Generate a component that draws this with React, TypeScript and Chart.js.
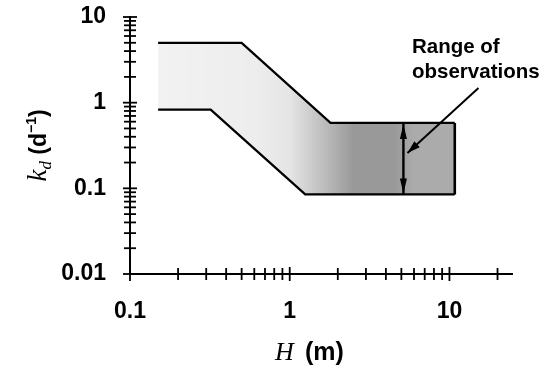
import React, { useEffect, useRef } from "react";
import { Chart, registerables } from "chart.js";

Chart.register(...registerables);

// ---- data ----
const upperH = [0.15, 0.5, 1.8, 10.8];
const upperKd = [5, 5, 0.58, 0.58];
const lowerH = [0.15, 0.32, 1.25, 10.8];
const lowerKd = [0.83, 0.83, 0.085, 0.085];
const edgeH = [10.8, 10.8];
const edgeKd = [0.58, 0.085];
const rangeH = [5.15, 5.15];
const rangeKd = [0.58, 0.085];
const pointerH = [15.2, 5.46];
const pointerKd = [1.48, 0.258];

const xDecadeValues = [0.1, 1, 10];
const xDecadeLabels = ["0.1", "1", "10"];
const yDecadeValues = [0.01, 0.1, 1, 10];
const yDecadeLabels = ["0.01", "0.1", "1", "10"];
const annotationLines = ["Range of", "observations"];

// shading density along H (style of the stippled band)
const shadeH = [0.15, 0.6, 1.0, 1.6, 2.5, 4.5, 6, 10.8];
const shadeAlpha = [0.05, 0.07, 0.1, 0.25, 0.4, 0.4, 0.33, 0.33];

const pts = (xs: number[], ys: number[]) => xs.map((x, i) => ({ x, y: ys[i] }));

const SANS = '"Liberation Sans", Arial, Helvetica, sans-serif';
const SERIF = '"Liberation Serif", "Times New Roman", serif';

const labelFor = (values: number[], labels: string[]) => (value: any) => {
  const v = Number(value);
  const i = values.findIndex((d) => Math.abs(d - v) / d < 1e-6);
  return i >= 0 ? labels[i] : "";
};

const isWholeMantissa = (v: number) => {
  const e = Math.floor(Math.log10(v) + 1e-9);
  const m = v / Math.pow(10, e);
  return Math.abs(m - Math.round(m)) < 1e-6;
};
const isDecade = (v: number) => {
  const l = Math.log10(v);
  return Math.abs(l - Math.round(l)) < 1e-6;
};

function arrowHead(ctx: CanvasRenderingContext2D, fx: number, fy: number, tx: number, ty: number, len: number, half: number) {
  const a = Math.atan2(ty - fy, tx - fx);
  ctx.beginPath();
  ctx.moveTo(tx, ty);
  ctx.lineTo(tx - len * Math.cos(a) + half * Math.sin(a), ty - len * Math.sin(a) - half * Math.cos(a));
  ctx.lineTo(tx - len * Math.cos(a) - half * Math.sin(a), ty - len * Math.sin(a) + half * Math.cos(a));
  ctx.closePath();
  ctx.fill();
}

const decorPlugin = {
  id: "decor",
  afterDatasetsDraw(chart: any) {
    const ctx: CanvasRenderingContext2D = chart.ctx;
    const xs = chart.scales.x;
    const ys = chart.scales.y;
    const ca = chart.chartArea;
    ctx.save();
    ctx.strokeStyle = "#000";
    ctx.fillStyle = "#000";
    ctx.lineWidth = 2;
    ctx.lineCap = "butt";
    // axis lines
    ctx.beginPath();
    ctx.moveTo(ca.left, ys.getPixelForValue(10) - 1);
    ctx.lineTo(ca.left, ca.bottom);
    ctx.lineTo(ca.right, ca.bottom);
    ctx.stroke();
    // crossing ticks
    ctx.lineWidth = 1.8;
    xs.ticks.forEach((t: any) => {
      if (!isWholeMantissa(t.value)) return;
      const px = xs.getPixelForValue(t.value);
      const h = isDecade(t.value) ? 7 : 6;
      ctx.beginPath();
      ctx.moveTo(px, ca.bottom - h);
      ctx.lineTo(px, ca.bottom + h);
      ctx.stroke();
    });
    ys.ticks.forEach((t: any) => {
      if (!isWholeMantissa(t.value)) return;
      const py = ys.getPixelForValue(t.value);
      const h = isDecade(t.value) ? 7 : 6;
      ctx.beginPath();
      ctx.moveTo(ca.left - h, py);
      ctx.lineTo(ca.left + h, py);
      ctx.stroke();
    });
    // arrowheads
    const rangeMeta = chart.getDatasetMeta(3).data;
    if (rangeMeta.length === 2) {
      const a = rangeMeta[0], b = rangeMeta[1];
      arrowHead(ctx, b.x, b.y, a.x, a.y + 1, 15, 3.5);
      arrowHead(ctx, a.x, a.y, b.x, b.y - 1, 15, 3.5);
    }
    const ptrMeta = chart.getDatasetMeta(4).data;
    if (ptrMeta.length === 2) {
      arrowHead(ctx, ptrMeta[0].x, ptrMeta[0].y, ptrMeta[1].x, ptrMeta[1].y, 13, 4);
    }
    ctx.restore();
  },
  afterDraw(chart: any) {
    const ctx: CanvasRenderingContext2D = chart.ctx;
    const ca = chart.chartArea;
    ctx.save();
    ctx.fillStyle = "#000";
    ctx.textBaseline = "alphabetic";
    ctx.textAlign = "left";
    // annotation
    ctx.font = `bold 20.5px ${SANS}`;
    ctx.fillText(annotationLines[0], 412, 53);
    ctx.fillText(annotationLines[1], 412, 78);
    // x title
    ctx.font = `italic 26px ${SERIF}`;
    ctx.fillText("H", 275, 360);
    ctx.font = `bold 25px ${SANS}`;
    ctx.fillText("(m)", 305, 360);
    // y title (rotated)
    const segs = [
      { t: "k", f: `italic 27px ${SERIF}`, dy: 0 },
      { t: "d", f: `italic 17px ${SERIF}`, dy: 5 },
      { t: " (d", f: `bold 23px ${SANS}`, dy: 0 },
      { t: "\u22121", f: `bold 14px ${SANS}`, dy: -10 },
      { t: ")", f: `bold 23px ${SANS}`, dy: 0 },
    ];
    let total = 0;
    const widths = segs.map((s) => {
      ctx.font = s.f;
      const w = ctx.measureText(s.t).width;
      total += w;
      return w;
    });
    ctx.translate(46, (ca.top + ca.bottom) / 2);
    ctx.rotate(-Math.PI / 2);
    let x = -total / 2;
    segs.forEach((s, i) => {
      ctx.font = s.f;
      ctx.fillText(s.t, x, s.dy);
      x += widths[i];
    });
    ctx.restore();
  },
};

export default function App() {
  const ref = useRef<HTMLCanvasElement | null>(null);
  useEffect(() => {
    document.body.style.margin = "0";
    const canvas = ref.current;
    if (!canvas) return;
    const lineStyle = {
      borderColor: "#000",
      borderWidth: 2.3,
      pointRadius: 0,
      tension: 0,
      showLine: true,
    };
    const chart = new Chart(canvas, {
      type: "scatter",
      data: {
        datasets: [
          {
            ...lineStyle,
            data: pts(upperH, upperKd),
            fill: "+1",
            backgroundColor: (c: any) => {
              const ch = c.chart;
              const sx = ch.scales && ch.scales.x;
              if (!ch.chartArea || !sx) return "rgba(0,0,0,0.2)";
              const x0 = sx.getPixelForValue(shadeH[0]);
              const x1 = sx.getPixelForValue(shadeH[shadeH.length - 1]);
              const g = ch.ctx.createLinearGradient(x0, 0, x1, 0);
              shadeH.forEach((h, i) => {
                const p = (sx.getPixelForValue(h) - x0) / (x1 - x0);
                g.addColorStop(Math.min(1, Math.max(0, p)), `rgba(0,0,0,${shadeAlpha[i]})`);
              });
              return g;
            },
          },
          { ...lineStyle, data: pts(lowerH, lowerKd), fill: false },
          { ...lineStyle, data: pts(edgeH, edgeKd), fill: false, borderWidth: 2.6 },
          { ...lineStyle, data: pts(rangeH, rangeKd), fill: false, borderWidth: 2.4 },
          { ...lineStyle, data: pts(pointerH, pointerKd), fill: false, borderWidth: 2 },
        ] as any,
      },
      options: {
        responsive: false,
        animation: false,
        devicePixelRatio: 1,
        layout: { padding: { top: 17, right: 27, left: 0, bottom: 0 } },
        plugins: { legend: { display: false }, tooltip: { enabled: false }, title: { display: false } },
        events: [],
        scales: {
          x: {
            type: "logarithmic",
            min: 0.1,
            max: 25,
            grid: { display: false, drawTicks: false },
            border: { display: false },
            ticks: {
              autoSkip: false,
              maxRotation: 0,
              minRotation: 0,
              padding: 24,
              color: "#000",
              font: { family: SANS, size: 23, weight: "bold" },
              callback: labelFor(xDecadeValues, xDecadeLabels),
            },
            afterFit: (s: any) => {
              s.height = 91;
              s.paddingLeft = 0;
              s.paddingRight = 0;
            },
          },
          y: {
            type: "logarithmic",
            min: 0.01,
            max: 10,
            grid: { display: false, drawTicks: false },
            border: { display: false },
            ticks: {
              autoSkip: false,
              padding: 24,
              color: "#000",
              font: { family: SANS, size: 23, weight: "bold" },
              callback: labelFor(yDecadeValues, yDecadeLabels),
            },
            afterFit: (s: any) => {
              s.width = 130;
              s.paddingTop = 0;
              s.paddingBottom = 0;
            },
          },
        },
      } as any,
      plugins: [decorPlugin],
    });
    return () => chart.destroy();
  }, []);
  return (
    <div style={{ position: "fixed", left: 0, top: 0, width: 540, height: 365, background: "#fff" }}>
      <canvas ref={ref} width={540} height={365} style={{ display: "block" }} />
    </div>
  );
}
